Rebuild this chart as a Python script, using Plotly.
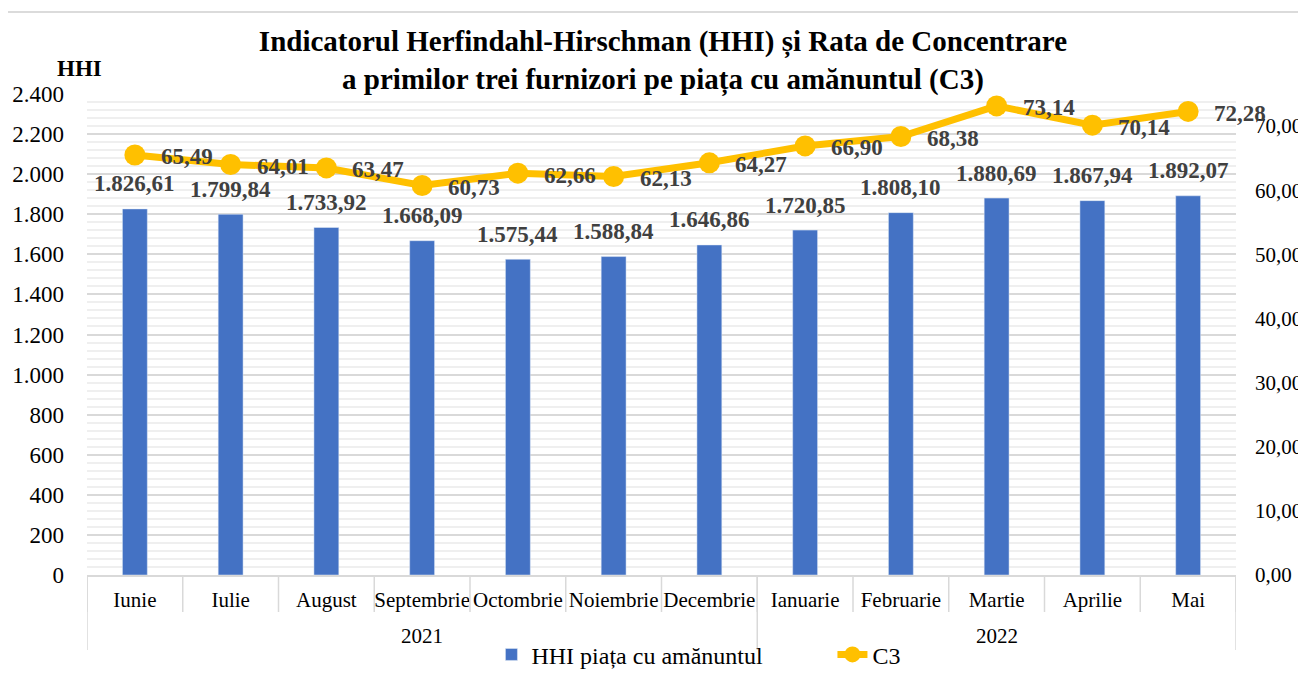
import plotly.graph_objects as go

years = ["2021"] * 7 + ["2022"] * 5
months = ["Iunie", "Iulie", "August", "Septembrie", "Octombrie", "Noiembrie",
          "Decembrie", "Ianuarie", "Februarie", "Martie", "Aprilie", "Mai"]
hhi = [1826.61, 1799.84, 1733.92, 1668.09, 1575.44, 1588.84, 1646.86,
       1720.85, 1808.10, 1880.69, 1867.94, 1892.07]
c3 = [65.49, 64.01, 63.47, 60.73, 62.66, 62.13, 64.27, 66.90, 68.38,
      73.14, 70.14, 72.28]

FONT = "Liberation Serif"
BLUE = "#4472C4"
GOLD = "#FFC000"
LABEL = "#404040"
GRID = "#d9d9d9"
PLOT_H = 481  # plot area height in px (for paper-relative offsets below axis)


def ro(v):
    s = f"{v:,.2f}"
    return s.replace(",", "X").replace(".", ",").replace("X", ".")


fig = go.Figure()
fig.add_trace(go.Bar(
    x=months, y=hhi, name="HHI piața cu amănuntul",
    marker=dict(color=BLUE), yaxis="y",
))
fig.add_trace(go.Scatter(
    x=months, y=c3, name="C3", yaxis="y2",
    mode="lines+markers", line=dict(color=GOLD, width=7),
    marker=dict(color=GOLD, size=21),
))

annotations = []
for i, v in enumerate(hhi):
    annotations.append(dict(
        x=i, y=v, xref="x", yref="y", text=ro(v), showarrow=False,
        xanchor="center", yanchor="middle", yshift=25,
        font=dict(family=FONT, size=23, color=LABEL, weight="bold"),
    ))
for i, v in enumerate(c3):
    annotations.append(dict(
        x=i, y=v, xref="x", yref="y2", text=ro(v), showarrow=False,
        xanchor="left", yanchor="middle", xshift=24, yshift=-2,
        font=dict(family=FONT, size=23, color=LABEL, weight="bold"),
    ))
annotations.append(dict(
    x=-0.028, y=1.054, xref="paper", yref="paper", text="<b>HHI</b>",
    showarrow=False, xanchor="left", yanchor="middle",
    font=dict(family=FONT, size=23, color="black"),
))

# year groups: labels centred under each group, dividers at group edges
shapes = []
groups = []
start = 0
for i in range(1, len(years) + 1):
    if i == len(years) or years[i] != years[start]:
        groups.append((years[start], start, i - 1))
        start = i
for name, a, b in groups:
    annotations.append(dict(
        x=(a + b) / 2, y=-61 / PLOT_H, xref="x", yref="paper", text=name,
        showarrow=False, xanchor="center", yanchor="middle",
        font=dict(family=FONT, size=21, color="black"),
    ))
divs = sorted({a - 0.5 for _, a, _ in groups} | {b + 0.5 for _, _, b in groups})
for d in divs:
    shapes.append(dict(type="line", xref="x", yref="paper", x0=d, x1=d,
                       y0=0, y1=-75 / PLOT_H, line=dict(color=GRID, width=1.5)))
for k in range(len(months) + 1):
    shapes.append(dict(type="line", xref="x", yref="paper", x0=k - 0.5,
                       x1=k - 0.5, y0=0, y1=-37 / PLOT_H,
                       line=dict(color=GRID, width=1.5)))
shapes.append(dict(
    type="rect", xref="paper", yref="paper", x0=-0.0696, y0=-0.4,
    x1=1.2, y1=1.1705, line=dict(color="#d0d0d0", width=1.5),
    fillcolor="rgba(0,0,0,0)", layer="below",
))

fig.update_layout(
    width=1298, height=676,
    margin=dict(l=79, r=70, t=86, b=109, autoexpand=False),
    paper_bgcolor="white", plot_bgcolor="white",
    separators=",.",
    font=dict(family=FONT, size=22, color="black"),
    title=dict(
        text="<b>Indicatorul Herfindahl-Hirschman (HHI) și Rata de Concentrare<br>"
             "a primilor trei furnizori pe piața cu amănuntul (C3)</b>",
        x=0.5046, xanchor="center", y=0.9357, yanchor="middle",
        yref="container", xref="container",
        font=dict(family=FONT, size=29, color="black"),
    ),
    bargap=0.74,
    showlegend=True,
    legend=dict(
        orientation="h", x=0.352, xanchor="left", y=-0.166, yanchor="middle",
        font=dict(family=FONT, size=24, color="black"),
        entrywidth=296, entrywidthmode="pixels",
        bgcolor="rgba(0,0,0,0)",
    ),
    xaxis=dict(
        type="category", range=[-0.5, 11.5], autorange=False,
        showline=True, linecolor=GRID, linewidth=2,
        ticks="", tickangle=0, automargin=False, ticklabelstandoff=5,
        tickfont=dict(family=FONT, size=21, color="black"),
        showgrid=False,
    ),
    yaxis=dict(
        range=[0, 2400], dtick=200, tickformat=",.0f", showgrid=True,
        gridcolor=GRID, gridwidth=1.5, zeroline=False, automargin=False,
        ticks="", ticklabelstandoff=22,
        tickfont=dict(family=FONT, size=23, color="black"),
        minor=dict(dtick=40, showgrid=True, gridcolor="#efefef", gridwidth=1.5),
    ),
    yaxis2=dict(
        range=[0, 75], dtick=10, tickformat=".2f", overlaying="y", side="right",
        showgrid=False, zeroline=False, automargin=False, ticks="",
        ticklabelstandoff=18,
        tickfont=dict(family=FONT, size=21, color="black"),
    ),
    annotations=annotations,
    shapes=shapes,
)

fig.write_html("out.html")
